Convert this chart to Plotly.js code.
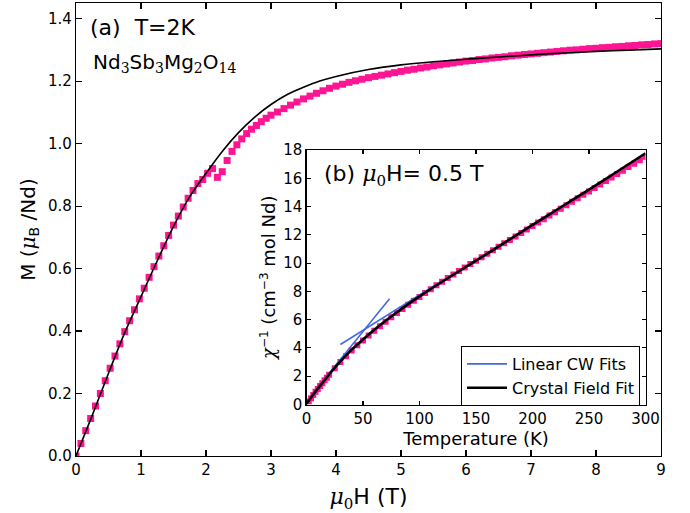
<!DOCTYPE html>
<html>
<head>
<meta charset="utf-8">
<script src="https://cdn.plot.ly/plotly-3.0.1.min.js"></script>
<style>html,body{margin:0;padding:0;background:#fff;}#chart{width:690px;height:513px;}</style>
</head>
<body>
<div id="chart"></div>
<script>
// ---- Panel (a): M vs mu0H at T = 2 K ----
const fieldData = [0,0.075,0.15,0.225,0.3,0.375,0.45,0.525,0.6,0.675,0.75,0.825,0.9,0.975,1.05,1.125,1.2,1.275,1.35,1.425,1.5,1.575,1.65,1.725,1.8,1.875,1.95,2.025,2.1,2.175,2.25,2.325,2.4,2.475,2.55,2.625,2.7,2.775,2.85,2.925,3.0,
  3.1,3.2,3.3,3.4,3.5,3.6,3.7,3.8,3.9,4.0,4.1,4.2,4.3,4.4,4.5,4.6,4.7,4.8,4.9,5.0,5.1,5.2,5.3,5.4,5.5,5.6,5.7,5.8,5.9,6.0,
  6.1,6.2,6.3,6.4,6.5,6.6,6.7,6.8,6.9,7.0,7.1,7.2,7.3,7.4,7.5,7.6,7.7,7.8,7.9,8.0,8.1,8.2,8.3,8.4,8.5,8.6,8.7,8.8,8.9,9.0];
const magData = [0,0.04,0.081,0.12,0.16,0.2,0.241,0.281,0.32,0.359,0.398,0.433,0.468,0.503,0.537,0.572,0.606,0.64,0.673,0.706,0.739,0.768,0.797,0.825,0.85,0.872,0.885,0.905,0.92,0.892,0.91,0.946,0.975,0.996,1.015,1.032,1.046,1.058,1.07,1.081,1.091,
  1.101,1.112,1.123,1.133,1.143,1.152,1.161,1.169,1.177,1.184,1.19,1.196,1.201,1.206,1.211,1.215,1.219,1.223,1.227,1.231,1.235,1.238,1.242,1.245,1.249,1.252,1.255,1.258,1.261,1.264,
  1.266,1.269,1.271,1.274,1.276,1.278,1.281,1.283,1.285,1.287,1.289,1.291,1.293,1.295,1.297,1.299,1.300,1.302,1.304,1.305,1.307,1.308,1.310,1.311,1.313,1.314,1.316,1.317,1.319,1.320];
const fieldFit = [0,0.25,0.5,0.75,1.0,1.25,1.5,1.75,2.0,2.25,2.5,2.75,3.0,3.25,3.5,3.75,4.0,4.5,5.0,5.5,6.0,6.5,7.0,7.5,8.0,8.5,9.0];
const magFit   = [0,0.13,0.265,0.395,0.51,0.625,0.735,0.83,0.905,0.975,1.035,1.085,1.125,1.157,1.18,1.2,1.215,1.237,1.252,1.262,1.27,1.277,1.284,1.29,1.295,1.299,1.303];

// ---- Panel (b): inverse susceptibility vs T at 0.5 T ----
const tempData = [2,4,6,8,10,12,14,16,18,20,25,30,35,40,45,50,55,60,65,70,75,80,85,90,95,100,105,110,115,120,125,130,135,140,145,150,
  155,160,165,170,175,180,185,190,195,200,205,210,215,220,225,230,235,240,245,250,255,260,265,270,275,280,285,290,295,300];
const invChiData = [0.22,0.45,0.68,0.9,1.1,1.31,1.51,1.71,1.9,2.1,2.56,3.0,3.42,3.82,4.19,4.53,4.88,5.21,5.54,5.86,6.17,6.47,6.76,7.05,7.33,7.61,7.89,8.16,8.43,8.69,8.95,9.2,9.45,9.69,9.93,10.17,
  10.42,10.66,10.91,11.15,11.4,11.64,11.89,12.13,12.38,12.62,12.87,13.11,13.36,13.6,13.85,14.09,14.34,14.58,14.83,15.07,15.32,15.56,15.81,16.05,16.3,16.54,16.79,17.03,17.28,17.52];
const tempCF   = [0,5,10,15,20,25,30,40,50,60,70,80,90,100,120,150,175,200,225,250,275,300];
const invChiCF = [0.05,0.6,1.12,1.62,2.12,2.6,3.05,3.88,4.6,5.28,5.92,6.52,7.1,7.65,8.68,10.17,11.43,12.7,13.95,15.2,16.48,17.76];
const tempCWlow  = [20,73.5];
const invChiCWlow  = [2.21,7.48];
const tempCWhigh = [30,122];
const invChiCWhigh = [4.24,8.85];

const xTicksA = [0,1,2,3,4,5,6,7,8,9];
const yTicksA = [0,0.2,0.4,0.6,0.8,1.0,1.2,1.4];
const xTicksB = [0,50,100,150,200,250,300];
const yTicksB = [0,2,4,6,8,10,12,14,16,18];

const PINK = '#ff1493', BLUE = '#4169e1';
const FONT = 'DejaVu Sans, sans-serif';
// italic serif letter (mathtext-like)
const mathIt = (t, s) => '<span style="font-family:DejaVu Serif;font-size:' + s + 'px;font-style:italic">' + t + '</span>';
// shifted small text (sub/superscript) with explicit size
const lower = (t, s, fam) => '<span style="font-family:' + (fam || 'DejaVu Sans') + ';font-size:' + s + 'px;baseline-shift:-30%">' + t + '</span>';
const upper = (t, s) => '<span style="font-family:DejaVu Sans;font-size:' + s + 'px;baseline-shift:55%">' + t + '</span>';
const norm = (t, s) => '<span style="font-family:DejaVu Sans;font-size:' + s + 'px">' + t + '</span>';

const traces = [
  {x: fieldData, y: magData, type: 'scatter', mode: 'markers', xaxis: 'x', yaxis: 'y', showlegend: false,
   marker: {symbol: 'square', size: 7, color: PINK, line: {width: 0}}},
  {x: fieldFit, y: magFit, type: 'scatter', mode: 'lines', xaxis: 'x', yaxis: 'y', showlegend: false,
   line: {color: '#000', width: 1.6, shape: 'spline', smoothing: 0.8}},
  {x: tempData, y: invChiData, type: 'scatter', mode: 'markers', xaxis: 'x2', yaxis: 'y2', showlegend: false,
   marker: {symbol: 'square', size: 6, color: PINK, line: {width: 0}}},
  {x: tempCWlow, y: invChiCWlow, type: 'scatter', mode: 'lines', xaxis: 'x2', yaxis: 'y2', name: 'Linear CW Fits',
   legendgroup: 'cw', line: {color: BLUE, width: 1.6}},
  {x: tempCWhigh, y: invChiCWhigh, type: 'scatter', mode: 'lines', xaxis: 'x2', yaxis: 'y2', name: 'Linear CW Fits',
   legendgroup: 'cw', showlegend: false, line: {color: BLUE, width: 1.6}},
  {x: tempCF, y: invChiCF, type: 'scatter', mode: 'lines', xaxis: 'x2', yaxis: 'y2', name: 'Crystal Field Fit',
   line: {color: '#000', width: 2.6, shape: 'spline', smoothing: 0.8}}
];

const axBase = {showgrid: false, zeroline: false, showline: true, linecolor: '#000', linewidth: 1.2,
  mirror: 'ticks', ticks: 'inside', tickcolor: '#000', tickwidth: 1.1,
  tickfont: {family: FONT, size: 15, color: '#000'}};

const W = 690, H = 513, ML = 76, MR = 29, MT = 3, MB = 57;
const PW = W - ML - MR, PH = H - MT - MB;
const px2x = p => (p - ML) / PW;
const px2y = p => (H - MB - p) / PH;

const layout = {
  width: W, height: H,
  margin: {l: ML, r: MR, t: MT, b: MB, pad: 0},
  paper_bgcolor: '#fff', plot_bgcolor: '#fff',
  font: {family: FONT, color: '#000', size: 15},
  showlegend: true,
  xaxis: Object.assign({}, axBase, {domain: [0, 1], range: [0, 9], tickvals: xTicksA, ticktext: xTicksA.map(String),
    ticklen: 6, anchor: 'y',
    title: {text: mathIt('μ', 22) + lower('0', 15, 'DejaVu Serif') + norm('H (T)', 22),
      font: {family: FONT, size: 22, color: '#000'}, standoff: 10}}),
  yaxis: Object.assign({}, axBase, {domain: [0, 1], range: [0, 1.45], tickvals: yTicksA, ticktext: yTicksA.map(v => v.toFixed(1)),
    ticklen: 6, anchor: 'x',
    title: {text: norm('M (', 20) + mathIt('μ', 20) + lower('B', 14) + norm(' /Nd)', 20),
      font: {family: FONT, size: 20, color: '#000'}, standoff: 7}}),
  xaxis2: Object.assign({}, axBase, {domain: [px2x(306.5), px2x(645.5)], range: [0, 300], tickvals: xTicksB, ticktext: xTicksB.map(String),
    ticklen: 4, anchor: 'y2',
    title: {text: 'Temperature (K)', font: {family: FONT, size: 18, color: '#000'}, standoff: 5}}),
  yaxis2: Object.assign({}, axBase, {domain: [px2y(404.5), px2y(150)], range: [0, 18], tickvals: yTicksB, ticktext: yTicksB.map(String),
    ticklen: 4, anchor: 'x2',
    title: {text: mathIt('χ', 18) + upper('−1', 12) + norm(' (cm', 18) + upper('−3', 12) + norm(' mol Nd)', 18),
      font: {family: FONT, size: 18, color: '#000'}, standoff: 3}}),
  legend: {x: px2x(461), y: px2y(346), xanchor: 'left', yanchor: 'top', xref: 'paper', yref: 'paper',
    bgcolor: '#fff', bordercolor: '#000', borderwidth: 1, font: {family: FONT, size: 16, color: '#000'},
    tracegroupgap: 0, itemwidth: 40},
  shapes: [
    {type: 'rect', xref: 'paper', yref: 'paper', x0: px2x(306.5), x1: px2x(645.5), y0: px2y(404.5), y1: px2y(150),
     fillcolor: '#fff', line: {width: 0}, layer: 'below'}
  ],
  annotations: [
    {xref: 'paper', yref: 'paper', x: px2x(88), y: px2y(28), xanchor: 'left', yanchor: 'middle', showarrow: false,
     text: '(a)  T=2K', font: {family: FONT, size: 22, color: '#000'}},
    {xref: 'paper', yref: 'paper', x: px2x(91), y: px2y(63), xanchor: 'left', yanchor: 'middle', showarrow: false,
     text: norm('Nd', 20) + lower('3', 14, 'DejaVu Serif') + norm('Sb', 20) + lower('3', 14, 'DejaVu Serif') + norm('Mg', 20) + lower('2', 14, 'DejaVu Serif') + norm('O', 20) + lower('14', 14, 'DejaVu Serif'),
     font: {family: FONT, size: 20, color: '#000'}},
    {xref: 'paper', yref: 'paper', x: px2x(322), y: px2y(176), xanchor: 'left', yanchor: 'middle', showarrow: false,
     text: norm('(b) ', 22) + mathIt('μ', 22) + lower('0', 15, 'DejaVu Serif') + norm('H= 0.5 T', 22),
     font: {family: FONT, size: 22, color: '#000'}}
  ]
};

Plotly.newPlot('chart', traces, layout, {displayModeBar: false, staticPlot: true});
</script>
</body>
</html>
